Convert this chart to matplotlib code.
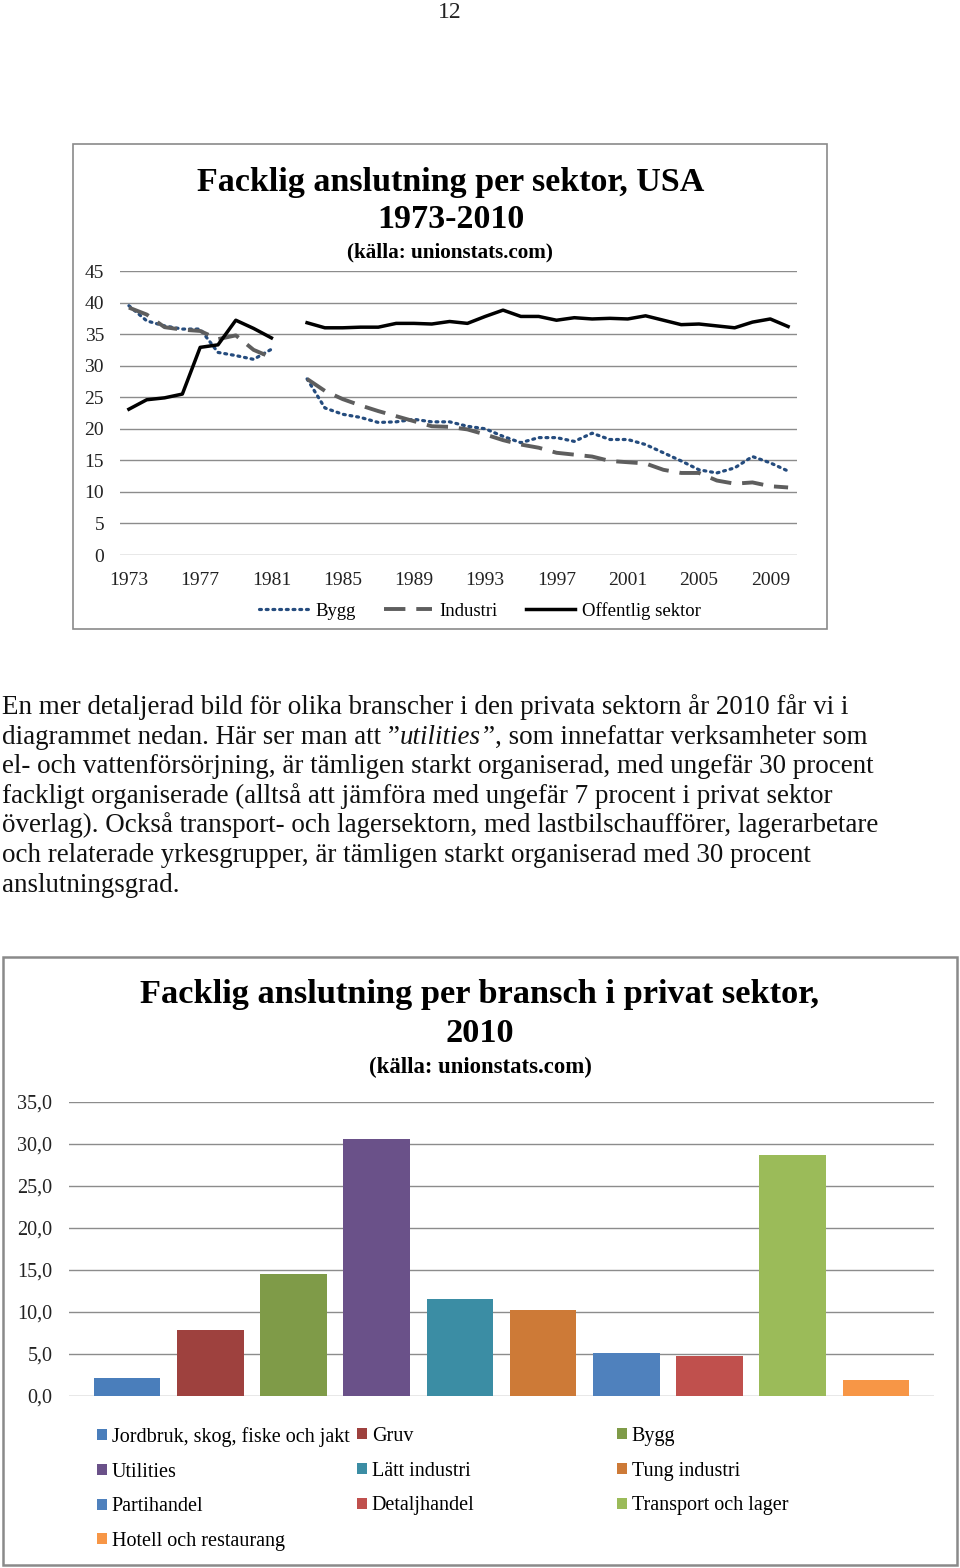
import numpy as np
import matplotlib
matplotlib.use("Agg")
import matplotlib.pyplot as plt
from matplotlib.patches import Rectangle, Patch
from matplotlib.ticker import FuncFormatter

# ---------------- data ----------------
years = list(range(1973, 2011))
nan = np.nan
bygg = [39.5, 37.1, 36.3, 35.8, 35.8, 32.1, 31.6, 31.0, 32.6, nan,
        27.9, 23.3, 22.3, 21.8, 21.0, 21.1, 21.5, 21.1, 21.1,
        20.4, 20.0, 18.8, 17.8, 18.6, 18.6, 18.0, 19.3, 18.3, 18.3,
        17.5, 16.2, 14.9, 13.5, 13.0, 13.8, 15.6, 14.6, 13.3]
industri = [39.2, 38.1, 36.1, 35.7, 35.5, 34.2, 34.8, 32.5, 31.3, nan,
            27.9, 26.0, 24.7, 23.7, 22.8, 22.0, 21.2, 20.4, 20.3,
            19.9, 19.1, 18.2, 17.5, 17.0, 16.2, 15.9, 15.6, 14.9, 14.7,
            14.5, 13.5, 13.0, 13.0, 11.8, 11.3, 11.5, 10.9, 10.7]
offentlig = [23.1, 24.6, 24.9, 25.5, 32.9, 33.3, 37.2, 35.9, 34.4, nan,
             36.8, 36.0, 36.0, 36.1, 36.1, 36.7, 36.7, 36.6, 37.0,
             36.7, 37.8, 38.8, 37.8, 37.8, 37.2, 37.6, 37.4, 37.5, 37.4,
             37.9, 37.2, 36.5, 36.6, 36.3, 36.0, 36.9, 37.4, 36.2]
serie_namn = ["Bygg", "Industri", "Offentlig sektor"]
year_ticks = years[::4]

branscher = ["Jordbruk, skog, fiske och jakt", "Gruv", "Bygg", "Utilities",
             "Lätt industri", "Tung industri", "Partihandel", "Detaljhandel",
             "Transport och lager", "Hotell och restaurang"]
andel = [2.2, 7.9, 14.5, 30.6, 11.6, 10.2, 5.1, 4.8, 28.7, 1.9]
farger = ["#4A7EBB", "#9E413E", "#7F9B48", "#6A5189", "#3B8DA4",
          "#CD7A37", "#4F81BD", "#C0504D", "#9BBB59", "#F79646"]

stycke = [
    [("En mer detaljerad bild för olika branscher i den privata sektorn år 2010 får vi i", "normal")],
    [("diagrammet nedan. Här ser man att \u201d", "normal"), ("utilities", "italic"),
     ("\u201d, som innefattar verksamheter som", "normal")],
    [("el- och vattenförsörjning, är tämligen starkt organiserad, med ungefär 30 procent", "normal")],
    [("fackligt organiserade (alltså att jämföra med ungefär 7 procent i privat sektor", "normal")],
    [("överlag). Också transport- och lagersektorn, med lastbilschaufförer, lagerarbetare", "normal")],
    [("och relaterade yrkesgrupper, är tämligen starkt organiserad med 30 procent", "normal")],
    [("anslutningsgrad.", "normal")],
]

# ---------------- figure ----------------
W, H = 960, 1568
SERIF = ["Liberation Serif", "DejaVu Serif"]
plt.rcParams['font.family'] = SERIF
fig = plt.figure(figsize=(W / 100, H / 100), dpi=100)
fig.patch.set_facecolor("white")
r = fig.canvas.get_renderer()


def fx(x):
    return x / W


def fy(y):
    return 1 - y / H


def fit(t, target):
    w = t.get_window_extent(r).width
    t.set_fontsize(t.get_fontsize() * target / w)
    return t.get_fontsize()


# page number
fig.text(fx(450), fy(13), "12", ha="center", va="center", fontsize=17, color="#222222")

# paragraph
probe = fig.text(0, 0, stycke[0][0][0], fontsize=17)
psize = fit(probe, 846)
probe.remove()
for i, runs in enumerate(stycke):
    x = 2
    yb = 714 + i * 29.6
    for s, st in runs:
        t = fig.text(fx(x), fy(yb), s, fontsize=psize, style=st, va="baseline",
                     ha="left", color="#111111")
        x += t.get_window_extent(r).width + (2 if st == "italic" else 0)

# ---------------- chart frames ----------------
fig.add_artist(Rectangle((fx(73), fy(629)), (827 - 73) / W, (629 - 144) / H,
                         transform=fig.transFigure, fill=False, ec="#8A8A8A", lw=1.2))
fig.add_artist(Rectangle((fx(3), fy(1565)), (957 - 3) / W, (1565 - 957) / H,
                         transform=fig.transFigure, fill=False, ec="#8A8A8A", lw=1.8))

# ---------------- top chart ----------------
t1 = fig.text(fx(451), fy(182), "Facklig anslutning per sektor, USA", ha="center",
              va="center", fontweight="bold", fontsize=22)
ts = fit(t1, 508)
fig.text(fx(451), fy(219), "1973-2010", ha="center", va="center",
         fontweight="bold", fontsize=ts)
st1 = fig.text(fx(450), fy(252), "(källa: unionstats.com)", ha="center", va="center",
               fontweight="bold", fontsize=13)
fit(st1, 206)

ax1 = fig.add_axes([fx(120), fy(555), (797 - 120) / W, (555 - 271) / H])
ax1.set_xlim(1972.5, 2010.5)
ax1.set_ylim(0, 45)
l1, = ax1.plot(years, bygg, color="#254C7E", lw=2.3, ls=(0, (0.6, 1.5)),
               dash_capstyle="round", label=serie_namn[0])
l2, = ax1.plot(years, industri, color="#5E5E5E", lw=2.8, ls=(0, (5.5, 2.8)),
               label=serie_namn[1])
l3, = ax1.plot(years, offentlig, color="black", lw=2.5, label=serie_namn[2])
ax1.set_yticks(range(0, 46, 5))
ax1.set_xticks(year_ticks)
ax1.grid(axis="y", color="#8C8C8C", lw=1)
ax1.set_axisbelow(True)
for s in ax1.spines.values():
    s.set_visible(False)
ax1.tick_params(axis="y", length=0, labelsize=14, pad=11.5, colors="#222222")
ax1.tick_params(axis="x", length=0, labelsize=14, pad=12.5, colors="#222222")
ax1.set_facecolor("none")

fig.legend(handles=[l1, l2, l3], loc="center", bbox_to_anchor=(fx(480), fy(611)),
           ncol=3, frameon=False, fontsize=13.5, handlelength=2.6,
           handletextpad=0.4, columnspacing=1.5, borderpad=0, borderaxespad=0)

# ---------------- bottom chart ----------------
t2 = fig.text(fx(480), fy(994), "Facklig anslutning per bransch i privat sektor,",
              ha="center", va="center", fontweight="bold", fontsize=22)
ts2 = fit(t2, 680)
fig.text(fx(480), fy(1033), "2010", ha="center", va="center", fontweight="bold",
         fontsize=ts2)
st2 = fig.text(fx(480), fy(1067), "(källa: unionstats.com)", ha="center", va="center",
               fontweight="bold", fontsize=13)
fit(st2, 221)

ax2 = fig.add_axes([fx(69), fy(1396), (934 - 69) / W, (1396 - 1102) / H])
xpos = np.arange(len(branscher))
bars = ax2.bar(xpos, andel, width=0.8, color=farger, zorder=3)
ax2.set_xlim(-0.698, len(branscher) - 1 + 0.698)
ax2.set_ylim(0, 35)
ax2.set_yticks(np.arange(0, 36, 5))
ax2.yaxis.set_major_formatter(FuncFormatter(lambda v, p: f"{v:.1f}".replace(".", ",")))
ax2.set_xticks([])
ax2.grid(axis="y", color="#8C8C8C", lw=1, zorder=0)
ax2.set_axisbelow(True)
for s in ax2.spines.values():
    s.set_visible(False)
ax2.tick_params(axis="y", length=0, labelsize=14.5, pad=12, colors="#222222")
ax2.set_facecolor("none")

handles = [Patch(facecolor=c, edgecolor="none") for c in farger]
cols = [[0, 3, 6, 9], [1, 4, 7], [2, 5, 8]]
col_x = [97, 357, 617]
for cx, idx in zip(col_x, cols):
    fig.legend(handles=[handles[i] for i in idx], labels=[branscher[i] for i in idx],
               loc="upper left", bbox_to_anchor=(fx(cx), fy(1427)), frameon=False,
               fontsize=14.5, handlelength=0.48, handleheight=0.48,
               handletextpad=0.25, labelspacing=0.78, borderpad=0, borderaxespad=0)

fig.savefig("out.png", dpi=100, facecolor="white")
